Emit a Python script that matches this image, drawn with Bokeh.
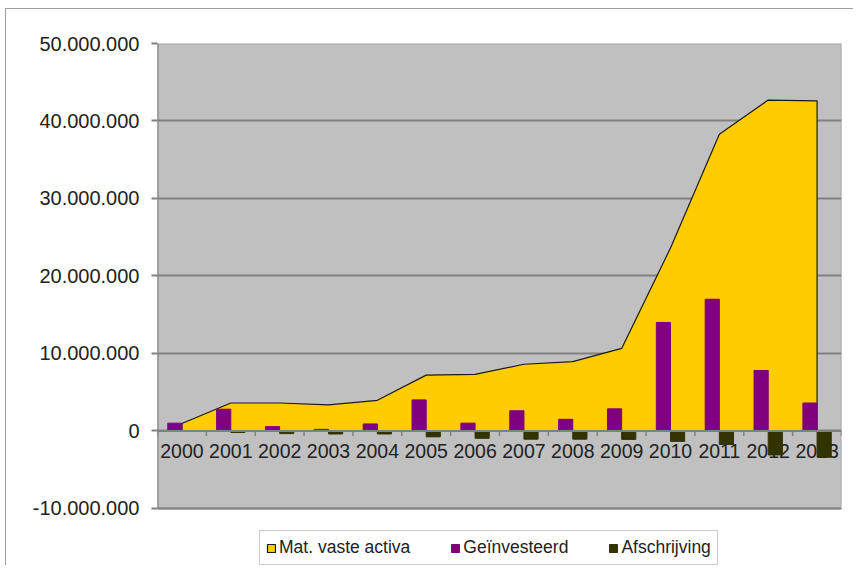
import math
from bokeh.plotting import figure
from bokeh.models import Range1d, FixedTicker, Legend, LegendItem, ColumnDataSource, Span
from bokeh.transform import dodge
from bokeh.core.properties import value
from bokeh.embed import file_html
from bokeh.resources import INLINE

# ---- data ----
years = ["2000", "2001", "2002", "2003", "2004", "2005", "2006",
         "2007", "2008", "2009", "2010", "2011", "2012", "2013"]
mat_vaste_activa = [950000, 3600000, 3600000, 3350000, 3950000, 7200000, 7300000,
                    8600000, 8950000, 10650000, 23600000, 38300000, 42700000, 42600000]
geinvesteerd = [1000000, 2800000, 550000, 200000, 900000, 4000000, 1000000,
                2600000, 1500000, 2850000, 14000000, 17000000, 7800000, 3600000]
afschrijving = [-50000, -200000, -350000, -400000, -400000, -770000, -950000,
                -1070000, -1070000, -1100000, -1350000, -1750000, -3100000, -3400000]
y_ticks = [-10000000, 0, 10000000, 20000000, 30000000, 40000000, 50000000]
y_tick_labels = ["-10.000.000", "0", "10.000.000", "20.000.000",
                 "30.000.000", "40.000.000", "50.000.000"]
series_names = ["Mat. vaste activa", "Geïnvesteerd", "Afschrijving"]

FONT = "Liberation Sans"
TXT = "#222222"
GRID = "#808080"

# ---- layout (pixels) ----
OFF_X, OFF_Y = 5, 8               # offset of the outer chart border
W, H = 848, 557
LEFT, RIGHT, TOP = 151, 13, 34
PLOT_H = 464                      # height of the grey plot area
frame_h = H - TOP - 1
extra = (frame_h - PLOT_H) * (y_ticks[-1] - y_ticks[0]) / PLOT_H   # white band for legend

n = len(years)
centers = [i + 0.5 for i in range(n)]
bounds = list(range(n + 1))
bar_w = 0.29

p = figure(width=W, height=H, output_backend="svg", toolbar_location=None,
           x_range=Range1d(0, n), y_range=Range1d(y_ticks[0] - extra, y_ticks[-1]),
           x_axis_location=None,
           min_border_left=LEFT, min_border_right=RIGHT, min_border_top=TOP,
           min_border_bottom=0)
p.styles = {"margin-left": f"{OFF_X}px", "margin-top": f"{OFF_Y}px",
            "border-left": "1px solid #a0a0a0", "border-top": "1px solid #a0a0a0"}
p.background_fill_color = "white"
p.border_fill_color = "white"
p.outline_line_color = None

# grey plot area
p.quad(left=0, right=n, bottom=y_ticks[0], top=y_ticks[-1], fill_color="#C0C0C0",
       line_color="#a8a8a8", line_width=2, level="image")

p.xgrid.grid_line_color = None
p.ygrid.ticker = FixedTicker(ticks=y_ticks)
p.ygrid.grid_line_color = GRID
p.ygrid.grid_line_width = 2

# area
area_x = [centers[0]] + centers + [centers[-1]]
area_y = [0] + mat_vaste_activa + [0]
r_area = p.patch(area_x, area_y, fill_color="#FFCC00", line_color="#1a1a1a", line_width=1.2)

# category labels (under the bars, as in the original)
p.text(x=centers, y=[0] * n, text=years, y_offset=13, text_align="center",
       text_baseline="top", text_font=value(FONT), text_font_size="19.5px",
       text_color=TXT)

src = ColumnDataSource(dict(xc=centers, inv=geinvesteerd, afs=afschrijving))
r_inv = p.vbar(x=dodge("xc", -bar_w / 2), top="inv", bottom=0, width=bar_w, source=src,
               fill_color="#800080", line_color="#800080")
r_afs = p.vbar(x=dodge("xc", bar_w / 2), top=0, bottom="afs", width=bar_w, source=src,
               fill_color="#333300", line_color="#333300")

# category axis drawn at zero
p.add_layout(Span(location=0, dimension="width", line_color=GRID, line_width=2))
p.ray(x=bounds, y=[0] * len(bounds), length=5, length_units="screen",
      angle=-math.pi / 2, line_color=GRID, line_width=1.5)

# value axis line
p.segment(x0=[0], y0=[y_ticks[0]], x1=[0], y1=[y_ticks[-1]], line_color=GRID, line_width=2)

# y axis
p.yaxis.ticker = FixedTicker(ticks=y_ticks)
p.yaxis.major_label_overrides = {t: l for t, l in zip(y_ticks, y_tick_labels)}
p.yaxis.major_label_text_font = FONT
p.yaxis.major_label_text_font_size = "20px"
p.yaxis.major_label_text_color = TXT
p.yaxis.axis_line_color = None
p.yaxis.major_tick_line_color = GRID
p.yaxis.major_tick_line_width = 2
p.yaxis.major_tick_out = 6
p.yaxis.major_tick_in = 0
p.yaxis.minor_tick_line_color = None
p.yaxis.major_label_standoff = 12

legend = Legend(items=[LegendItem(label=series_names[0], renderers=[r_area]),
                       LegendItem(label=series_names[1], renderers=[r_inv]),
                       LegendItem(label=series_names[2], renderers=[r_afs])],
                orientation="horizontal", location=(102, 1),
                label_text_font=FONT, label_text_font_size="17.5px", label_text_color=TXT,
                glyph_width=10, glyph_height=10, label_standoff=3, spacing=40,
                padding=6, margin=0, border_line_color="#999999", border_line_width=1.5,
                background_fill_color="white", background_fill_alpha=1)
p.add_layout(legend, "center")

open("out.html", "w").write(file_html(p, INLINE))
